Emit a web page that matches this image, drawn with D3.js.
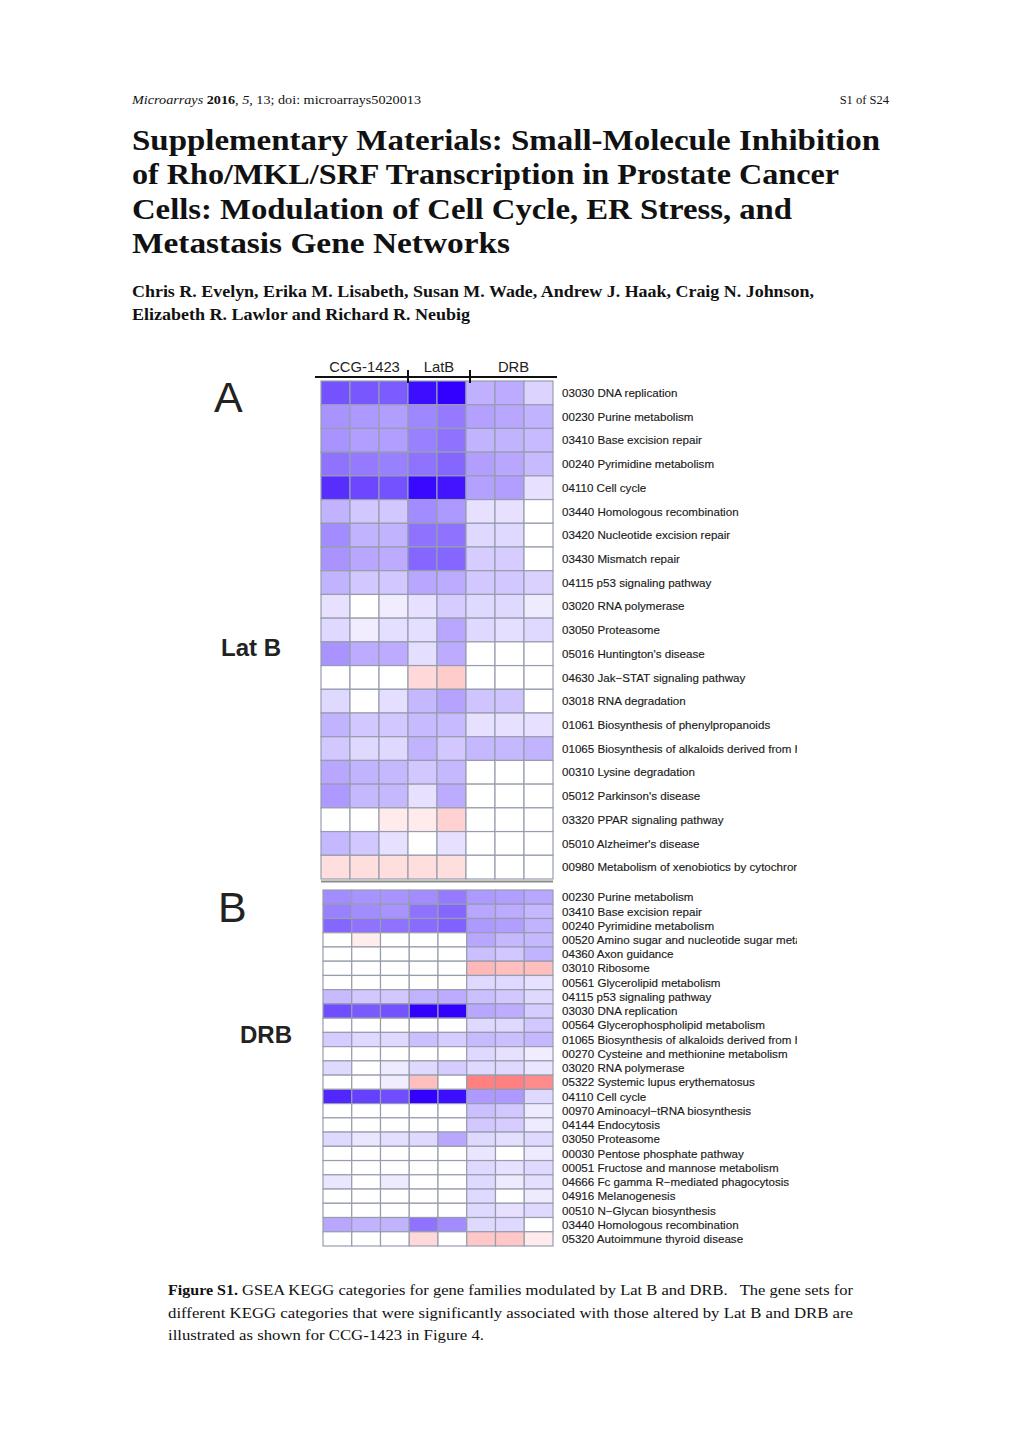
<!DOCTYPE html>
<html><head><meta charset="utf-8">
<script src="https://cdn.jsdelivr.net/npm/d3@7"></script>
<style>body{margin:0;background:#fff}</style>
</head><body>
<script>
// ---------------- data ----------------
const columns = ["CCG-1423 1","CCG-1423 2","CCG-1423 3","LatB 1","LatB 2","DRB 1","DRB 2","DRB 3"];
const groups = ["CCG-1423","LatB","DRB"];

const labelsA = ["03030 DNA replication","00230 Purine metabolism","03410 Base excision repair","00240 Pyrimidine metabolism","04110 Cell cycle","03440 Homologous recombination","03420 Nucleotide excision repair","03430 Mismatch repair","04115 p53 signaling pathway","03020 RNA polymerase","03050 Proteasome","05016 Huntington's disease","04630 Jak\u2212STAT signaling pathway","03018 RNA degradation","01061 Biosynthesis of phenylpropanoids","01065 Biosynthesis of alkaloids derived from histidine and purine","00310 Lysine degradation","05012 Parkinson's disease","03320 PPAR signaling pathway","05010 Alzheimer's disease","00980 Metabolism of xenobiotics by cytochrome P450"];
// negative = blue (down), positive = red (up); scaled -1..1
const valuesA = [
 [-0.68,-0.66,-0.64,-0.95,-1.00,-0.31,-0.33,-0.17],
 [-0.42,-0.40,-0.38,-0.47,-0.52,-0.37,-0.35,-0.30],
 [-0.42,-0.38,-0.38,-0.50,-0.55,-0.30,-0.30,-0.27],
 [-0.55,-0.52,-0.50,-0.55,-0.60,-0.38,-0.35,-0.27],
 [-0.82,-0.72,-0.68,-0.97,-0.92,-0.37,-0.38,-0.12],
 [-0.30,-0.22,-0.22,-0.45,-0.40,-0.12,-0.12, 0.00],
 [-0.45,-0.30,-0.30,-0.55,-0.55,-0.15,-0.15, 0.00],
 [-0.42,-0.35,-0.33,-0.60,-0.60,-0.20,-0.20, 0.00],
 [-0.30,-0.22,-0.22,-0.35,-0.33,-0.22,-0.22,-0.18],
 [-0.12, 0.00,-0.07,-0.12,-0.20,-0.15,-0.15,-0.08],
 [-0.15,-0.07,-0.13,-0.13,-0.35,-0.15,-0.13,-0.15],
 [-0.42,-0.33,-0.33,-0.13,-0.33, 0.00, 0.00, 0.00],
 [ 0.00, 0.00, 0.00, 0.15, 0.20, 0.00, 0.00, 0.00],
 [-0.15, 0.00,-0.13,-0.28,-0.36,-0.23,-0.23, 0.00],
 [-0.30,-0.22,-0.22,-0.27,-0.27,-0.12,-0.12,-0.12],
 [-0.22,-0.15,-0.15,-0.30,-0.22,-0.28,-0.28,-0.30],
 [-0.35,-0.30,-0.28,-0.22,-0.28, 0.00, 0.00, 0.00],
 [-0.40,-0.28,-0.28,-0.12,-0.33, 0.00, 0.00, 0.00],
 [ 0.00, 0.00, 0.08, 0.08, 0.18, 0.00, 0.00, 0.00],
 [-0.28,-0.22,-0.12, 0.00,-0.12, 0.00, 0.00, 0.00],
 [ 0.13, 0.13, 0.13, 0.13, 0.13, 0.00, 0.00, 0.00]
];

const labelsB = ["00230 Purine metabolism","03410 Base excision repair","00240 Pyrimidine metabolism","00520 Amino sugar and nucleotide sugar metabolism","04360 Axon guidance","03010 Ribosome","00561 Glycerolipid metabolism","04115 p53 signaling pathway","03030 DNA replication","00564 Glycerophospholipid metabolism","01065 Biosynthesis of alkaloids derived from histidine and purine","00270 Cysteine and methionine metabolism","03020 RNA polymerase","05322 Systemic lupus erythematosus","04110 Cell cycle","00970 Aminoacyl\u2212tRNA biosynthesis","04144 Endocytosis","03050 Proteasome","00030 Pentose phosphate pathway","00051 Fructose and mannose metabolism","04666 Fc gamma R\u2212mediated phagocytosis","04916 Melanogenesis","00510 N\u2212Glycan biosynthesis","03440 Homologous recombination","05320 Autoimmune thyroid disease"];
const valuesB = [
 [-0.45,-0.42,-0.42,-0.45,-0.52,-0.40,-0.38,-0.35],
 [-0.50,-0.45,-0.42,-0.55,-0.60,-0.35,-0.33,-0.28],
 [-0.60,-0.55,-0.55,-0.58,-0.62,-0.40,-0.38,-0.30],
 [ 0.00, 0.07, 0.00, 0.00, 0.00,-0.35,-0.28,-0.28],
 [ 0.00, 0.00, 0.00, 0.00, 0.00,-0.25,-0.22,-0.30],
 [ 0.00, 0.00, 0.00, 0.00, 0.00, 0.28, 0.25, 0.25],
 [ 0.00, 0.00, 0.00, 0.00, 0.00,-0.15,-0.15,-0.12],
 [-0.27,-0.22,-0.22,-0.30,-0.33,-0.25,-0.22,-0.15],
 [-0.70,-0.65,-0.68,-1.00,-1.00,-0.35,-0.32,-0.20],
 [ 0.00, 0.00, 0.00, 0.00, 0.00,-0.15,-0.15,-0.22],
 [-0.20,-0.15,-0.15,-0.25,-0.20,-0.27,-0.25,-0.28],
 [ 0.00, 0.00, 0.00, 0.00, 0.00,-0.15,-0.12,-0.07],
 [-0.15, 0.00,-0.08,-0.15,-0.20,-0.15,-0.15,-0.10],
 [ 0.00, 0.00,-0.07, 0.25, 0.00, 0.50, 0.50, 0.45],
 [-0.85,-0.75,-0.70,-1.00,-0.95,-0.40,-0.40,-0.15],
 [ 0.00, 0.00, 0.00, 0.00, 0.00,-0.25,-0.22,-0.08],
 [ 0.00, 0.00, 0.00, 0.00, 0.00,-0.22,-0.20,-0.08],
 [-0.15,-0.10,-0.13,-0.15,-0.35,-0.15,-0.13,-0.15],
 [ 0.00, 0.00, 0.00, 0.00, 0.00,-0.10, 0.00,-0.08],
 [ 0.00, 0.00, 0.00, 0.00, 0.00,-0.15,-0.12,-0.15],
 [-0.10, 0.00,-0.08, 0.00, 0.00,-0.15,-0.08,-0.13],
 [ 0.00, 0.00, 0.00, 0.00, 0.00,-0.15, 0.00,-0.08],
 [ 0.00, 0.00, 0.00, 0.00, 0.00,-0.15,-0.12,-0.15],
 [-0.35,-0.30,-0.30,-0.55,-0.45,-0.15,-0.15, 0.00],
 [ 0.00, 0.00, 0.00, 0.15, 0.00, 0.22, 0.22, 0.08]
];

const titleLines = ["Supplementary Materials: Small-Molecule Inhibition","of Rho/MKL/SRF Transcription in Prostate Cancer","Cells: Modulation of Cell Cycle, ER Stress, and","Metastasis Gene Networks"];
const authorLines = ["Chris R. Evelyn, Erika M. Lisabeth, Susan M. Wade, Andrew J. Haak, Craig N. Johnson,","Elizabeth R. Lawlor and Richard R. Neubig"];

// ---------------- drawing ----------------
const W = 1020, H = 1442;
const svg = d3.select("body").append("svg").attr("width", W).attr("height", H)
  .style("display","block").style("background","#fff");
const serif = "'Liberation Serif','Times New Roman',serif";
const sans = "'Liberation Sans',Arial,sans-serif";

// header
const hdr = svg.append("text").attr("x",132).attr("y",104).attr("font-family",serif).attr("font-size",12.5).attr("fill","#111")
  .attr("textLength",289).attr("lengthAdjust","spacingAndGlyphs");
hdr.append("tspan").attr("font-style","italic").text("Microarrays");
hdr.append("tspan").attr("font-weight","bold").text(" 2016");
hdr.append("tspan").text(", ");
hdr.append("tspan").attr("font-style","italic").text("5");
hdr.append("tspan").text(", 13; doi: microarrays5020013");
svg.append("text").attr("x",889).attr("y",104).attr("text-anchor","end").attr("font-family",serif).attr("font-size",12.5).attr("fill","#111").text("S1 of S24");

// title
const titleW = [748, 707, 660, 378];
svg.selectAll("text.title").data(titleLines).join("text").attr("class","title")
  .attr("x",132).attr("y",(d,i)=>150+i*34.3)
  .attr("font-family",serif).attr("font-weight","bold").attr("font-size",30).attr("fill","#111")
  .attr("textLength",(d,i)=>titleW[i]).attr("lengthAdjust","spacingAndGlyphs").text(d=>d);

const authW = [682, 338];
svg.selectAll("text.auth").data(authorLines).join("text").attr("class","auth")
  .attr("x",132).attr("y",(d,i)=>297+i*23)
  .attr("font-family",serif).attr("font-weight","bold").attr("font-size",16).attr("fill","#111")
  .attr("textLength",(d,i)=>authW[i]).attr("lengthAdjust","spacingAndGlyphs").text(d=>d);

// colour scale
const color = d3.scaleLinear().domain([-1,0,1]).range(["#3300ff","#ffffff","#ff0000"]);

svg.append("defs").append("clipPath").attr("id","lblclip")
  .append("rect").attr("x",555).attr("y",350).attr("width",242).attr("height",910);

function heatmap(labels, values, x0, x1, y0, y1) {
  const x = d3.scaleBand().domain(columns).range([x0,x1]);
  const y = d3.scaleBand().domain(labels).range([y0,y1]);
  const g = svg.append("g");
  const cells = [];
  values.forEach((row,i)=>row.forEach((v,j)=>cells.push({r:labels[i],c:columns[j],v})));
  g.selectAll("rect").data(cells).join("rect")
    .attr("x",d=>x(d.c)).attr("y",d=>y(d.r))
    .attr("width",x.bandwidth()).attr("height",y.bandwidth())
    .attr("fill",d=>color(d.v)).attr("stroke","#979dad").attr("stroke-width",1.2);
  g.append("g").attr("clip-path","url(#lblclip)").selectAll("text").data(labels).join("text")
    .attr("x",x1+9).attr("y",d=>y(d)+y.bandwidth()/2).attr("dy","0.36em")
    .attr("font-family",sans).attr("font-size",11.6).attr("fill","#1a1a1a")
    .attr("stroke","#1a1a1a").attr("stroke-width",0.15).text(d=>d);
  return {x,y};
}

const A = heatmap(labelsA, valuesA, 321, 553, 381, 879);
const B = heatmap(labelsB, valuesB, 323, 553, 890, 1246);

// separator line between panels
svg.append("line").attr("x1",321).attr("x2",553).attr("y1",881.5).attr("y2",881.5).attr("stroke","#8c8c8c").attr("stroke-width",2);

// group header
svg.append("line").attr("x1",315).attr("x2",557).attr("y1",377).attr("y2",377).attr("stroke","#111").attr("stroke-width",2);
const bnd = [315, A.x(columns[3]), A.x(columns[5])+4, 557];
[1,2].forEach(k=>{
  svg.append("line").attr("x1",bnd[k]).attr("x2",bnd[k]).attr("y1",370).attr("y2",383).attr("stroke","#111").attr("stroke-width",2);
});
svg.selectAll("text.grp").data(groups).join("text").attr("class","grp")
  .attr("x",(d,i)=>(bnd[i]+bnd[i+1])/2+(i===0?3:0)).attr("y",372).attr("text-anchor","middle")
  .attr("font-family",sans).attr("font-size",14.8).attr("fill","#222").text(d=>d);

// panel labels
svg.append("text").attr("x",214).attr("y",412).attr("font-family",sans).attr("font-size",43).attr("fill","#222").text("A");
svg.append("text").attr("x",221).attr("y",656).attr("font-family",sans).attr("font-weight","bold").attr("font-size",24).attr("fill","#222").text("Lat B");
svg.append("text").attr("x",218).attr("y",922).attr("font-family",sans).attr("font-size",43).attr("fill","#222").text("B");
svg.append("text").attr("x",240).attr("y",1043).attr("font-family",sans).attr("font-weight","bold").attr("font-size",24).attr("fill","#222").text("DRB");

// caption
svg.append("text").attr("x",168).attr("y",1295).attr("font-family",serif).attr("font-weight","bold").attr("font-size",15).attr("fill","#111")
  .attr("textLength",70).attr("lengthAdjust","spacingAndGlyphs").text("Figure S1.");
svg.append("text").attr("x",242).attr("y",1295).attr("font-family",serif).attr("font-size",15).attr("fill","#111")
  .attr("xml:space","preserve").attr("textLength",611).attr("lengthAdjust","spacingAndGlyphs")
  .text("GSEA KEGG categories for gene families modulated by Lat B and DRB.   The gene sets for");
svg.append("text").attr("x",168).attr("y",1318).attr("font-family",serif).attr("font-size",15).attr("fill","#111")
  .attr("textLength",685).attr("lengthAdjust","spacingAndGlyphs")
  .text("different KEGG categories that were significantly associated with those altered by Lat B and DRB are");
svg.append("text").attr("x",168).attr("y",1340).attr("font-family",serif).attr("font-size",15).attr("fill","#111")
  .attr("textLength",316).attr("lengthAdjust","spacingAndGlyphs")
  .text("illustrated as shown for CCG-1423 in Figure 4.");
</script>
</body></html>
